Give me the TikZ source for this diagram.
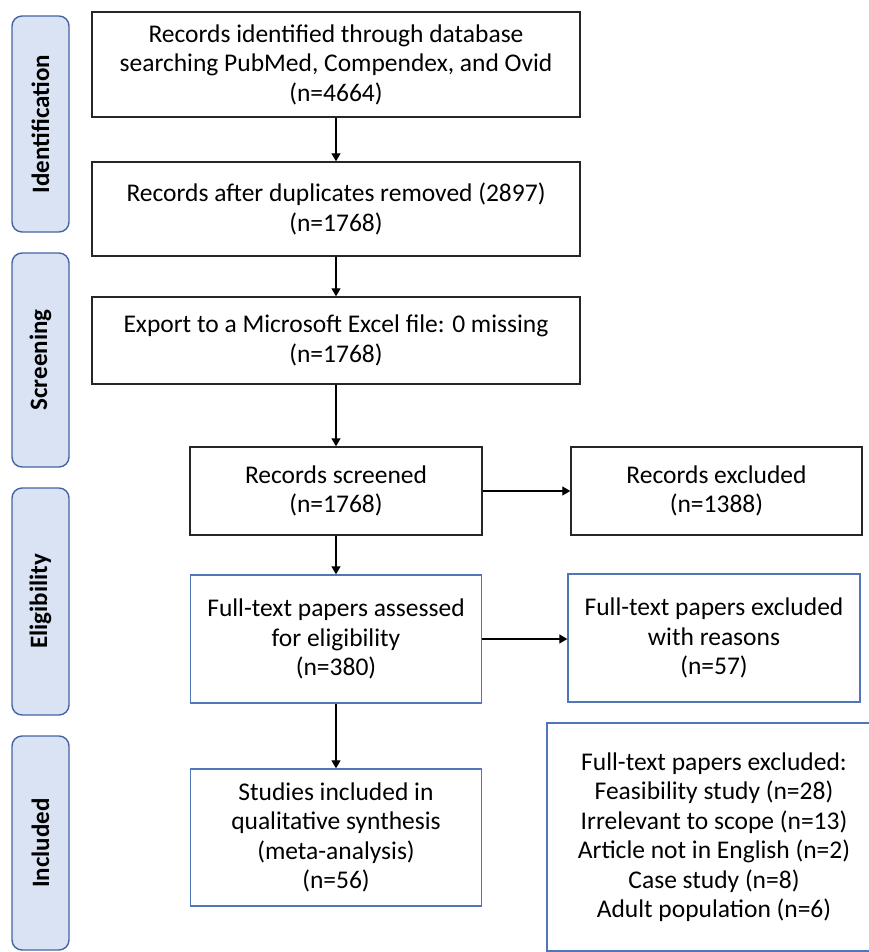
\documentclass[tikz,border=0pt]{standalone}
\usepackage{fontspec}
\setmainfont{Carlito}
\usetikzlibrary{arrows.meta}

\definecolor{tabfill}{RGB}{218,227,243}
\definecolor{tabline}{RGB}{68,101,163}
\definecolor{boxblue}{RGB}{82,116,184}

\tikzset{
	stage/.style={draw=tabline,fill=tabfill,rounded corners=10pt,line width=1.4pt,
		rotate=90,minimum height=57pt,inner sep=0pt,
		font=\fontsize{25}{28}\selectfont\bfseries},
	flowbox/.style={draw=black!85,line width=1.4pt,align=center,inner sep=0pt,
		font=\fontsize{25.5}{29.5}\selectfont},
	bluebox/.style={flowbox,draw=boxblue},
	arr/.style={line width=1.3pt,-{Triangle[length=8pt,width=9pt]}}
}

\begin{document}
\begin{tikzpicture}[x=1pt,y=-1pt]
	
	\useasboundingbox (0,0) rectangle (869,952);
	\clip (0,0) rectangle (869,952);
	
	% stage tabs
	\node[stage,minimum width=216pt] (ident)  at (40.5,124)   {Identification};
	\node[stage,minimum width=214pt] (screen) at (40.5,360)   {Screening};
	\node[stage,minimum width=227pt] (elig)   at (40.5,601.5) {Eligibility};
	\node[stage,minimum width=214pt] (incl)   at (40.5,843)   {Included};
	
	% main column
	\node[flowbox,minimum width=488pt,minimum height=105pt] (found) at (336,64.5)
		{Records identified through database\\searching PubMed, Compendex, and Ovid\\(n=4664)};
	\node[flowbox,minimum width=488pt,minimum height=94pt] (dedup) at (336,209)
		{Records after duplicates removed (2897)\\(n=1768)};
	\node[flowbox,minimum width=488pt,minimum height=87pt] (export) at (336,340.5)
		{Export to a Microsoft Excel file: 0 missing\\(n=1768)};
	\node[flowbox,minimum width=292pt,minimum height=88pt] (screened) at (336,491)
		{Records screened\\(n=1768)};
	\node[bluebox,minimum width=291pt,minimum height=128pt] (fulltext) at (336,639)
		{Full-text papers assessed\\for eligibility\\(n=380)};
	\node[bluebox,minimum width=291pt,minimum height=137pt] (included) at (336,837.5)
		{Studies included in\\qualitative synthesis\\(meta-analysis)\\(n=56)};
	
	% right column
	\node[flowbox,minimum width=291pt,minimum height=88pt] (excl) at (716.5,491)
		{Records excluded\\(n=1388)};
	\node[bluebox,minimum width=292pt,minimum height=128pt] (ftexcl) at (714,638)
		{Full-text papers excluded\\with reasons\\(n=57)};
	\node[bluebox,minimum width=334pt,minimum height=228pt] (reasons) at (714,837)
		{Full-text papers excluded:\\Feasibility study (n=28)\\Irrelevant to scope (n=13)\\Article not in English (n=2)\\Case study (n=8)\\Adult population (n=6)};
	
	% arrows
	\draw[arr] (found) -- (dedup);
	\draw[arr] (dedup) -- (export);
	\draw[arr] (export) -- (screened);
	\draw[arr] (screened) -- (fulltext);
	\draw[arr] (fulltext) -- (included);
	\draw[arr] (screened) -- (excl);
	\draw[arr] (fulltext.east) -- (fulltext.east -| ftexcl.west);
	
\end{tikzpicture}
\end{document}
